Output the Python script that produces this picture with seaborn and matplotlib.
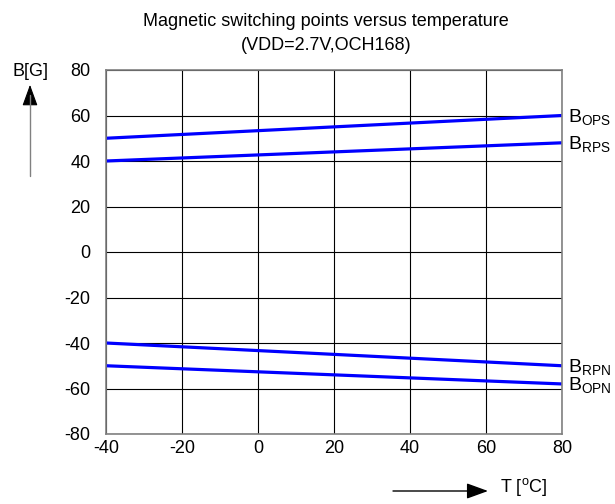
import matplotlib
matplotlib.use("Agg")
import matplotlib.pyplot as plt
import seaborn as sns
import pandas as pd

temps = [-40, 80]
b_ops = [50, 60]
b_rps = [40, 48]
b_rpn = [-40, -50]
b_opn = [-50, -58]
series_names = ["OPS", "RPS", "RPN", "OPN"]
x_ticks = [-40, -20, 0, 20, 40, 60, 80]
y_ticks = [-80, -60, -40, -20, 0, 20, 40, 60, 80]

sns.set_theme(style="white")
plt.rcParams['font.family'] = ['Liberation Sans', 'DejaVu Sans']
plt.rcParams['mathtext.fontset'] = 'custom'
plt.rcParams['mathtext.rm'] = 'Liberation Sans'
plt.rcParams['text.color'] = 'black'
plt.rcParams['xtick.color'] = 'black'
plt.rcParams['ytick.color'] = 'black'

rows = []
for name, vals in zip(series_names, [b_ops, b_rps, b_rpn, b_opn]):
    for t, v in zip(temps, vals):
        rows.append({"T": t, "B": v, "series": name})
df = pd.DataFrame(rows)

FS = 13

fig = plt.figure(figsize=(6.15, 5.04), dpi=100)
ax = fig.add_axes([106/615, 1-434/504, (562-106)/615, (434-70)/504])

sns.lineplot(data=df, x="T", y="B", units="series", estimator=None,
             color="#0000FF", linewidth=2.3, ax=ax, legend=False)

ax.set_xlim(-40, 80)
ax.set_ylim(-80, 80)
ax.set_xticks(x_ticks)
ax.set_yticks(y_ticks)
ax.set_xticklabels([str(v) for v in x_ticks], fontsize=FS)
ax.set_yticklabels([str(v) for v in y_ticks], fontsize=FS)
ax.tick_params(axis='x', length=0, pad=4, labelcolor='black')
ax.tick_params(axis='y', length=0, pad=11, labelcolor='black')
ax.grid(True, color='black', linewidth=0.8)
ax.set_axisbelow(True)
for s in ax.spines.values():
    s.set_color('#808080')
    s.set_linewidth(1.2)
ax.set_xlabel("")
ax.set_ylabel("")

# right-hand labels
for name, vals in zip(series_names, [b_ops, b_rps, b_rpn, b_opn]):
    ax.annotate(r"$\mathregular{B_{%s}}$" % name, xy=(temps[-1], vals[-1]),
                xytext=(4, -1), textcoords='offset points', color='black',
                ha='left', va='center', fontsize=FS + 1, annotation_clip=False)

fig.text(326/615, 1-22/504, "Magnetic switching points versus temperature",
         ha='center', va='center', fontsize=FS, color='black')
fig.text(326/615, 1-45/504, "(VDD=2.7V,OCH168)",
         ha='center', va='center', fontsize=FS, color='black')

fig.text(31/615, 1-72/504, "B[G]", ha='center', va='center', fontsize=FS, color='black')
# vertical arrow: gray shaft, black head
fig.add_artist(matplotlib.lines.Line2D([30/615, 30/615], [1-176/504, 1-95/504],
                                       transform=fig.transFigure, color='#808080', linewidth=1.0))
fig.patches.append(matplotlib.patches.FancyArrowPatch(
    (30/615, 1-97/504), (30/615, 1-82/504), transform=fig.transFigure,
    arrowstyle='-|>,head_length=1.1,head_width=0.4', color='black',
    linewidth=0.8, mutation_scale=12))
fig.patches.append(matplotlib.patches.FancyArrowPatch(
    (393/615, 1-491/504), (488/615, 1-491/504), transform=fig.transFigure,
    arrowstyle='-|>,head_length=1.1,head_width=0.4', color='black',
    linewidth=1.0, mutation_scale=12, shrinkA=0, shrinkB=0))
fig.text(500/615, 1-487/504, r"T [$^{\mathregular{o}}$C]", ha='left', va='center', fontsize=FS, color='black')

fig.savefig("out.png", dpi=100)
